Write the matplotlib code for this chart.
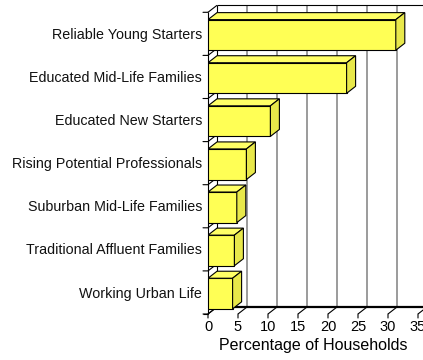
#!/usr/bin/env python3
"""Household share by segment, drawn as an Excel-style 3D horizontal bar chart."""

import matplotlib

matplotlib.use("Agg")
import matplotlib.pyplot as plt
from matplotlib.patches import Polygon

plt.rcParams["font.family"] = ["Liberation Sans", "DejaVu Sans"]

# Segments listed bottom-up, with their share of households (%)
segments = [
    "Working Urban Life",
    "Traditional Affluent Families",
    "Suburban Mid-Life Families",
    "Rising Potential Professionals",
    "Educated New Starters",
    "Educated Mid-Life Families",
    "Reliable Young Starters",
]
shares = [4.1, 4.4, 4.8, 6.4, 10.4, 23.1, 31.3]
x_ticks = [0, 5, 10, 15, 20, 25, 30, 35]
x_label = "Percentage of Households"

W, H, DPI = 423, 360, 100
PX_X = 6.0    # pixels per percent
PX_Y = 43.1   # pixels per category band
DX = 9 / PX_X   # depth offset, in data units
DY = 7 / PX_Y
X_MAX = 36.5
Y_MAX = len(segments) + DY

fig = plt.figure(figsize=(W / DPI, H / DPI), dpi=DPI)
ax = fig.add_axes([208 / W, 46 / H, X_MAX * PX_X / W, Y_MAX * PX_Y / H])
ax.set_xlim(0, X_MAX)
ax.set_ylim(0, Y_MAX)
ax.axis("off")

n = len(segments)
lw = 0.8
line = dict(color="black", lw=lw, clip_on=False, solid_capstyle="butt")

# back wall: gridlines, top edge and left edge
for t in x_ticks[1:]:
    ax.plot([t + DX, t + DX], [DY, n + DY], color="#808080", lw=1.1, zorder=1)
ax.plot([DX, DX], [DY, n + DY], **line, zorder=2)
ax.plot([DX, X_MAX + 2], [n + DY, n + DY], **line, zorder=2)

# side wall: front edge and category dividers
ax.plot([0, 0], [0, n], **line, zorder=2)
for k in range(n + 1):
    ax.plot([0, DX], [k, k + DY], **line, zorder=2)
    ax.annotate("", xy=(0, k), xytext=(-5, 0), textcoords="offset pixels",
                arrowprops=dict(arrowstyle="-", lw=lw, color="black",
                                shrinkA=0, shrinkB=0))

# floor: back edge, depth lines, front axis and ticks
ax.plot([DX, X_MAX + 2], [DY, DY], color="black", lw=1.6, clip_on=False, zorder=2)
ax.plot([0, 35], [0, 0], color="#808080", lw=0.6, zorder=2)
for t in x_ticks:
    ax.plot([t, t + DX], [0, DY], **line, zorder=2)
    ax.annotate("", xy=(t, 0), xytext=(0, -4), textcoords="offset pixels",
                arrowprops=dict(arrowstyle="-", lw=lw, color="black",
                                shrinkA=0, shrinkB=0))
    ax.annotate(str(t), xy=(t, 0), xytext=(0, -6), textcoords="offset pixels",
                ha="center", va="top", fontsize=10.5, annotation_clip=False)
ax.plot([-5 / PX_X, 0], [0, 0], **line, zorder=2)

ax.annotate(x_label, xy=(17.5, 0), xytext=(0, -24), textcoords="offset pixels",
            ha="center", va="top", fontsize=11.5, annotation_clip=False)

# bars: front face, top face, right face
front_c, top_c, side_c = "#ffff55", "#ffff66", "#e8e84a"
for k, (name, v) in enumerate(zip(segments, shares)):
    y0, y1 = k + 0.12, k + 0.83
    faces = [
        ([(0, y0), (v, y0), (v, y1), (0, y1)], front_c),
        ([(0, y1), (v, y1), (v + DX, y1 + DY), (DX, y1 + DY)], top_c),
        ([(v, y0), (v + DX, y0 + DY), (v + DX, y1 + DY), (v, y1)], side_c),
    ]
    for pts, c in faces:
        ax.add_patch(Polygon(pts, closed=True, facecolor=c, edgecolor="black",
                             lw=lw, joinstyle="miter", zorder=5))
    ax.annotate(name, xy=(0, (y0 + y1) / 2), xytext=(-6, 0),
                textcoords="offset pixels", ha="right", va="center",
                fontsize=10.3, color="#111111", annotation_clip=False)

fig.savefig("out.png", dpi=DPI)
